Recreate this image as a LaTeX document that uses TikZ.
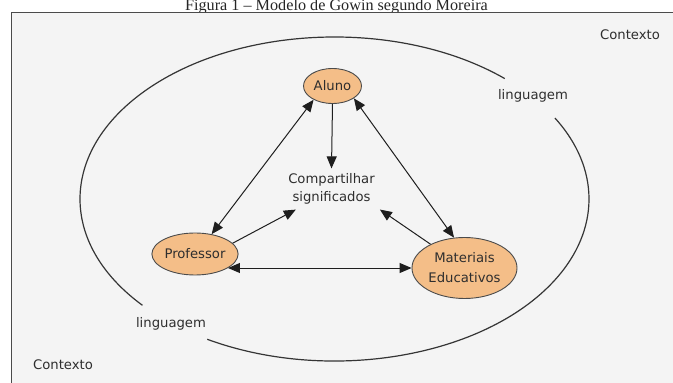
\documentclass[tikz,border=0pt]{standalone}
\usepackage{fontspec}
\setmainfont{Liberation Serif}
\newfontfamily\diagfont{DejaVu Sans}
\usetikzlibrary{arrows.meta,shapes.geometric}
\definecolor{nodefill}{HTML}{F4BE88}
\definecolor{panelbg}{HTML}{F4F4F4}
\definecolor{inkline}{HTML}{1E1E1E}
\definecolor{inktext}{HTML}{2E2E2E}
\begin{document}
\begin{tikzpicture}[x=1pt,y=1pt,
  label text/.style={font=\diagfont\fontsize{13.2}{18}\selectfont, text=inktext, align=center},
  concept/.style={ellipse, draw=inkline!80, line width=0.9pt, fill=nodefill,
    inner sep=0pt, label text},
  link/.style={draw=inkline, line width=1pt},
  tip/.style={-{Triangle[length=12pt,width=10pt]}},
  twotip/.style={{Triangle[length=12pt,width=10pt]}-{Triangle[length=12pt,width=10pt]}},
  contour/.style={draw=inkline!90, line width=1.2pt}]
\useasboundingbox (0,0) rectangle (673,383);
\clip (0,0) rectangle (673,383);
\fill[white] (0,0) rectangle (673,383);

% caption
\node[font=\fontsize{16.2}{18}\selectfont, anchor=base, text=black!85] (caption) at (336.5,372.5)
  {Figura 1 – Modelo de Gowin segundo Moreira};

% panel
\draw[fill=panelbg, draw=inkline!80, line width=1pt] (11,370) rectangle (700,-20);

% outer contour (linguagem), broken where the labels sit
\coordinate (ctr) at (334.5,184);
\draw[contour] ([shift={(48:254.5 and 162)}]ctr)
  arc[start angle=48, end angle=221, x radius=254.5, y radius=162];
\draw[contour] ([shift={(240:254.5 and 162)}]ctr)
  arc[start angle=240, end angle=390, x radius=254.5, y radius=162];

\node[label text] (lingA) at (533,287) {linguagem};
\node[label text] (lingB) at (171,59) {linguagem};
\node[label text] (ctxA) at (630,348) {Contexto};
\node[label text] (ctxB) at (63,18) {Contexto};

% concepts
\node[concept, minimum width=58pt, minimum height=35pt] (alu) at (332.5,297) {Aluno};
\node[concept, minimum width=86pt, minimum height=42pt] (prof) at (195,129) {Professor};
\node[concept, minimum width=105pt, minimum height=61pt,
  font=\diagfont\fontsize{13.2}{20}\selectfont] (mat) at (464.5,115) {Materiais\\Educativos};
\node[label text, inner sep=5pt] (comp) at (331.5,194) {Compartilhar\\significados};

% connectors
\draw[link, tip] (alu.south) -- (comp.north);
\draw[link, twotip] (alu.216) -- (prof.50);
\draw[link, twotip] (alu.330) -- (mat.109);
\draw[link, tip] (prof.16) -- (comp.210);
\draw[link, tip] (mat.145) -- (comp.337);
\draw[link, twotip] (prof.-23.6) -- (prof.-23.6 -| mat.west);
\end{tikzpicture}
\end{document}
